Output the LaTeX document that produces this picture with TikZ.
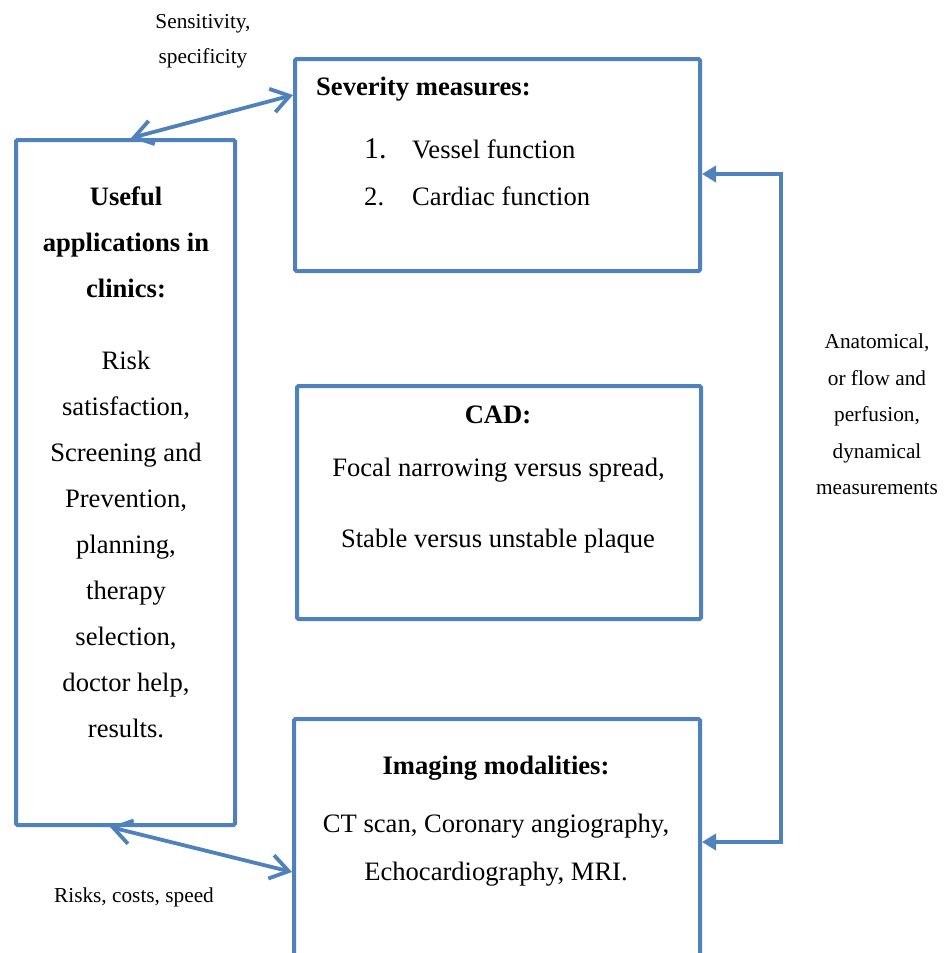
\documentclass[tikz,border=0pt]{standalone}
\usepackage{fontspec}
\setmainfont{Liberation Serif}
\usetikzlibrary{arrows.meta}
\definecolor{frameblue}{RGB}{79,129,189}
\tikzset{
  box/.style={draw=frameblue, line width=4pt, rounded corners=1.5pt, inner sep=0pt, outer sep=2pt},
  link/.style={draw=frameblue, line width=3.8pt},
  barbs/.style={link, {Straight Barb[length=18pt,width=24pt]}-{Straight Barb[length=18pt,width=24pt]}},
  tris/.style={link, line join=miter, {Triangle[length=14pt,width=16pt]}-{Triangle[length=14pt,width=16pt]}},
  bodytext/.style={inner sep=0pt, anchor=base, font=\fontsize{26.6}{46}\selectfont},
  headtext/.style={bodytext, font=\fontsize{26.6}{46}\selectfont\bfseries},
  smalltext/.style={inner sep=0pt, anchor=base, font=\fontsize{21.3}{36}\selectfont}
}
\begin{document}
\begin{tikzpicture}[x=1pt, y=-1pt]
\useasboundingbox (0,0) rectangle (948,953);
\clip (0,0) rectangle (948,953);

% boxes
\node[box, minimum width=219pt, minimum height=685pt] (use) at (125.5,482.5) {};
\node[box, minimum width=405pt, minimum height=212pt] (sev) at (497.5,165) {};
\node[box, minimum width=404pt, minimum height=233pt] (cad) at (499,502.5) {};
\node[box, minimum width=406pt, minimum height=281pt] (img) at (497,859.5) {};

% left box text
\foreach \t/\y [count=\i] in {Useful/205, applications in/251, clinics:/297}
  \node[headtext] (usehead\i) at (126,\y) {\t};
\foreach \t/\y [count=\i] in {Risk/369, {satisfaction,}/415, Screening and/461,
    {Prevention,}/507, {planning,}/553, therapy/599, {selection,}/645,
    {doctor help,}/691, results./737}
  \node[bodytext] (usebody\i) at (126,\y) {\t};

% severity box text
\node[headtext, anchor=base west] (sevhead) at (316,95) {Severity measures:};
\node[bodytext, anchor=base west, font=\fontsize{30}{46}\selectfont] (sevn1) at (364,158) {1.};
\node[bodytext, anchor=base west] (sevi1) at (412,158) {Vessel function};
\node[bodytext, anchor=base west] (sevn2) at (364,205) {2.};
\node[bodytext, anchor=base west] (sevi2) at (412,205) {Cardiac function};

% CAD box text
\node[headtext] (cadhead) at (498,423) {CAD:};
\node[bodytext] (cad1) at (498.5,476) {Focal narrowing versus spread,};
\node[bodytext] (cad2) at (498,547) {Stable versus unstable plaque};

% imaging box text
\node[headtext] (imghead) at (496,774) {Imaging modalities:};
\node[bodytext] (img1) at (496,832) {CT scan, Coronary angiography,};
\node[bodytext] (img2) at (496,880) {Echocardiography, MRI.};

% connector labels
\node[smalltext] (sens1) at (203,28) {Sensitivity,};
\node[smalltext] (sens2) at (203,63) {specificity};
\node[smalltext] (risk) at (134,902) {Risks, costs, speed};
\foreach \t/\y [count=\i] in {{Anatomical,}/348, or flow and/385, {perfusion,}/421,
    dynamical/458, measurements/494}
  \node[smalltext] (meas\i) at (877,\y) {\t};

% connector end points on the box borders
\coordinate (useTop) at ([xshift=5.5pt]use.north);
\coordinate (sevLeft) at ([yshift=70pt]sev.west);
\coordinate (useBot) at ([xshift=-15.5pt]use.south);
\coordinate (imgLeft) at ([yshift=-12.5pt]img.west);
\coordinate (sevRight) at ([yshift=-9pt]sev.east);
\coordinate (imgRight) at ([yshift=17.5pt]img.east);
\coordinate (rail) at (781,500);

% connectors
\draw[barbs] (useTop) -- (sevLeft);
\draw[barbs] (useBot) -- (imgLeft);
\draw[tris] (sevRight) -- (sevRight -| rail) -- (imgRight -| rail) -- (imgRight);
\end{tikzpicture}
\end{document}
